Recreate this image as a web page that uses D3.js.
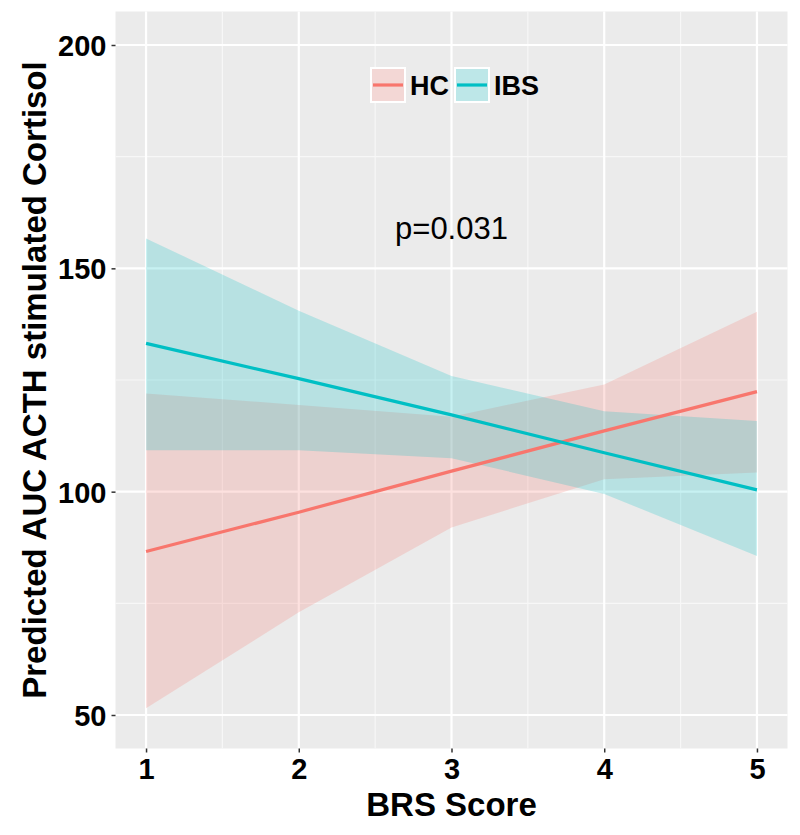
<!DOCTYPE html>
<html>
<head>
<meta charset="utf-8">
<script src="https://cdn.jsdelivr.net/npm/d3@7"></script>
<style>
  html, body { margin: 0; padding: 0; background: #ffffff; }
  svg { display: block; }
</style>
</head>
<body>
<svg id="chart" width="800" height="835"></svg>
<script>
// ---- data ----
const brsScore   = [1, 2, 3, 4, 5];
const groups     = ["HC", "IBS"];
const hcFit      = [86.6, 95.4, 104.6, 113.6, 122.4];
const hcUpper    = [122.0, 119.4, 116.8, 124.0, 140.3];
const hcLower    = [51.5, 73.0, 92.0, 102.8, 104.3];
const ibsFit     = [133.2, 125.3, 117.2, 108.7, 100.4];
const ibsUpper   = [156.7, 140.5, 125.9, 118.0, 115.8];
const ibsLower   = [109.3, 109.3, 107.5, 99.5, 85.6];
const xTicks     = [1, 2, 3, 4, 5];
const xMinor     = [1.5, 2.5, 3.5, 4.5];
const yTicks     = [50, 100, 150, 200];
const yMinor     = [75, 125, 175];
const pLabel     = "p=0.031";
const xTitle     = "BRS Score";
const yTitle     = "Predicted AUC ACTH stimulated Cortisol";

const colors = { HC: "#F8766D", IBS: "#00BFC4" };
const series = [
  { name: "HC",  fit: hcFit,  up: hcUpper,  lo: hcLower },
  { name: "IBS", fit: ibsFit, up: ibsUpper, lo: ibsLower }
];

// ---- layout ----
const panel = { left: 115.5, right: 787.5, top: 11.5, bottom: 748.5 };
const font = "'Liberation Sans', Arial, Helvetica, sans-serif";

const x = d3.scaleLinear().domain([0.8, 5.2]).range([panel.left, panel.right]);
const y = d3.scaleLinear().domain([42.5, 207.5]).range([panel.bottom, panel.top]);

const svg = d3.select("#chart");

// panel background
svg.append("rect")
  .attr("x", panel.left).attr("y", panel.top)
  .attr("width", panel.right - panel.left).attr("height", panel.bottom - panel.top)
  .attr("fill", "#EBEBEB");

const grid = svg.append("g");
// minor grid
grid.selectAll(".vminor").data(xMinor).enter().append("line")
  .attr("x1", d => x(d)).attr("x2", d => x(d))
  .attr("y1", panel.top).attr("y2", panel.bottom)
  .attr("stroke", "#F7F7F7").attr("stroke-width", 1.2);
grid.selectAll(".hminor").data(yMinor).enter().append("line")
  .attr("y1", d => y(d)).attr("y2", d => y(d))
  .attr("x1", panel.left).attr("x2", panel.right)
  .attr("stroke", "#F7F7F7").attr("stroke-width", 1.2);
// major grid
grid.selectAll(".vmajor").data(xTicks).enter().append("line")
  .attr("x1", d => x(d)).attr("x2", d => x(d))
  .attr("y1", panel.top).attr("y2", panel.bottom)
  .attr("stroke", "#FFFFFF").attr("stroke-width", 2.2);
grid.selectAll(".hmajor").data(yTicks).enter().append("line")
  .attr("y1", d => y(d)).attr("y2", d => y(d))
  .attr("x1", panel.left).attr("x2", panel.right)
  .attr("stroke", "#FFFFFF").attr("stroke-width", 2.2);

// ribbons
const area = s => d3.area()
  .x((d, i) => x(brsScore[i]))
  .y0((d, i) => y(s.lo[i]))
  .y1((d, i) => y(s.up[i]));
series.forEach(s => {
  svg.append("path")
    .datum(s.fit)
    .attr("d", area(s))
    .attr("fill", colors[s.name])
    .attr("fill-opacity", 0.22);
});

// lines
const line = d3.line().x((d, i) => x(brsScore[i])).y(d => y(d));
series.forEach(s => {
  svg.append("path")
    .datum(s.fit)
    .attr("d", line)
    .attr("fill", "none")
    .attr("stroke", colors[s.name])
    .attr("stroke-width", 3.2);
});

// axes
const xAxis = d3.axisBottom(x).tickValues(xTicks).tickSize(4).tickPadding(6).tickFormat(d3.format("d"));
const gx = svg.append("g").attr("transform", `translate(0,${panel.bottom})`).call(xAxis);
gx.select(".domain").remove();
gx.selectAll(".tick line").attr("stroke", "#333333").attr("stroke-width", 1.5);
gx.selectAll(".tick text")
  .attr("font-family", font).attr("font-weight", "bold").attr("font-size", 29)
  .attr("fill", "#000000").attr("dy", "0.71em");

const yAxis = d3.axisLeft(y).tickValues(yTicks).tickSize(4).tickPadding(5).tickFormat(d3.format("d"));
const gy = svg.append("g").attr("transform", `translate(${panel.left},0)`).call(yAxis);
gy.select(".domain").remove();
gy.selectAll(".tick line").attr("stroke", "#333333").attr("stroke-width", 1.5);
gy.selectAll(".tick text")
  .attr("font-family", font).attr("font-weight", "bold").attr("font-size", 29)
  .attr("fill", "#000000").attr("dy", "0.36em");

// axis titles
svg.append("text")
  .attr("x", (panel.left + panel.right) / 2).attr("y", 816)
  .attr("text-anchor", "middle")
  .attr("font-family", font).attr("font-weight", "bold").attr("font-size", 33)
  .attr("fill", "#000000")
  .text(xTitle);

svg.append("text")
  .attr("transform", `translate(46,${(panel.top + panel.bottom) / 2}) rotate(-90)`)
  .attr("text-anchor", "middle")
  .attr("font-family", font).attr("font-weight", "bold").attr("font-size", 33)
  .attr("fill", "#000000")
  .text(yTitle);

// annotation
svg.append("text")
  .attr("x", x(3)).attr("y", y(159) + 11)
  .attr("text-anchor", "middle")
  .attr("font-family", font).attr("font-size", 31)
  .attr("fill", "#000000")
  .text(pLabel);

// legend
const legendItems = [
  { name: "HC",  kx: 371, tx: 410 },
  { name: "IBS", kx: 455, tx: 494 }
];
const ky = 68, ks = 34;
const lg = svg.append("g");
legendItems.forEach(it => {
  lg.append("rect").attr("x", it.kx).attr("y", ky).attr("width", ks).attr("height", ks)
    .attr("fill", "#F2F2F2").attr("stroke", "#FFFFFF").attr("stroke-width", 2);
  lg.append("rect").attr("x", it.kx + 1).attr("y", ky + 1).attr("width", ks - 2).attr("height", ks - 2)
    .attr("fill", colors[it.name]).attr("fill-opacity", 0.22);
  lg.append("line").attr("x1", it.kx + 2).attr("x2", it.kx + ks - 2)
    .attr("y1", ky + ks / 2).attr("y2", ky + ks / 2)
    .attr("stroke", colors[it.name]).attr("stroke-width", 3.2);
  lg.append("text").attr("x", it.tx).attr("y", ky + ks / 2 + 10)
    .attr("font-family", font).attr("font-weight", "bold").attr("font-size", 27)
    .attr("fill", "#000000").text(it.name);
});
</script>
</body>
</html>
